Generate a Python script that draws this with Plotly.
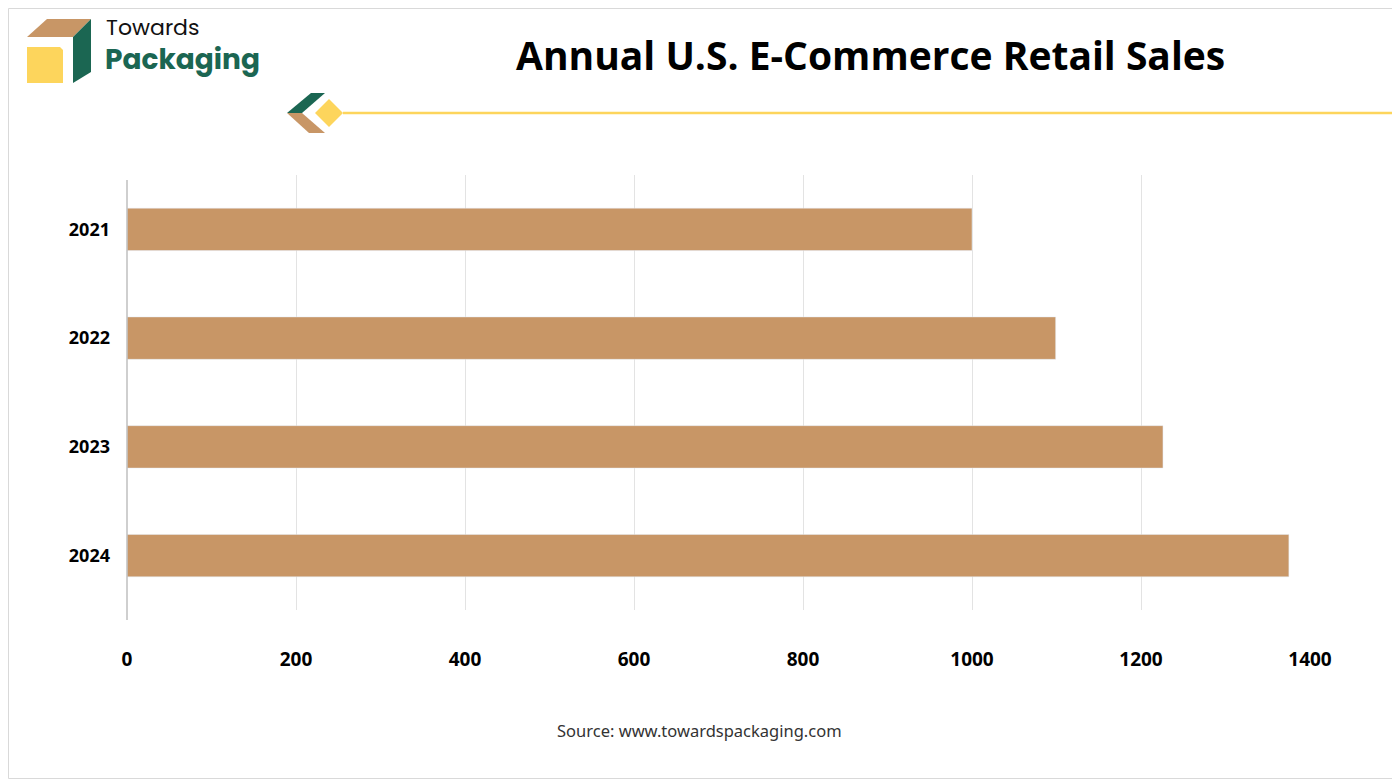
import plotly.graph_objects as go

years = ["2021", "2022", "2023", "2024"]
sales = [1000, 1099, 1226, 1375]
x_ticks = [0, 200, 400, 600, 800, 1000, 1200, 1400]

OFF = 8  # page body margin
W, H = 1400 - OFF, 779 - OFF
L, R, T, B = 127 - OFF, 90, 175 - OFF, 169
PW, PH = W - L - R, H - T - B

def px(x):
    return (x - OFF - L) / PW

def py(y):
    return (H - B - (y - OFF)) / PH

def poly(pts, color):
    d = "M " + " L ".join(f"{px(x)},{py(y)}" for x, y in pts) + " Z"
    return dict(type="path", xref="paper", yref="paper", path=d,
                fillcolor=color, line=dict(width=0), layer="above")

fig = go.Figure(go.Bar(
    y=years, x=sales, orientation="h", marker_color="#C89666",
    width=0.39, hoverinfo="skip"))

shapes = [
    poly([(27, 37), (47, 19), (91, 19), (73, 37)], "#C89666"),
    poly([(73, 37), (91, 19), (91, 72), (73, 83)], "#1B6652"),
    poly([(27, 47), (60, 47), (63, 50), (63, 83), (27, 83)], "#FDD55C"),
    poly([(287, 113), (311, 93), (325, 93), (302, 113)], "#1B6652"),
    poly([(287, 113), (302, 113), (325, 133), (309, 133)], "#C89666"),
    poly([(315, 113), (329, 99), (343, 113), (329, 127)], "#FDD55C"),
    dict(type="line", xref="paper", yref="paper", x0=px(343), x1=px(1400),
         y0=py(113), y1=py(113), line=dict(color="#FDD55C", width=2.5)),
    dict(type="rect", xref="paper", yref="paper", x0=px(OFF + 0.5), x1=px(1399.5),
         y0=py(OFF + 0.5), y1=py(778.5), line=dict(color="#D9D9D9", width=1)),
    dict(type="line", xref="paper", yref="paper", x0=0, x1=0,
         y0=py(180), y1=py(620), line=dict(color="#BFBFBF", width=1.5)),
]

ann = [
    dict(text="<b>Annual U.S. E-Commerce Retail Sales</b>", x=px(870), y=py(55),
         font=dict(size=39, color="#000", family="Open Sans")),
    dict(text="Towards", x=px(104), y=py(27), xanchor="left",
         font=dict(size=22, color="#111", family="Poppins, Lato")),
    dict(text="<b>Packaging</b>", x=px(103), y=py(59), xanchor="left",
         font=dict(size=28, color="#1B6652", family="Poppins, Lato")),
    dict(text="Source: www.towardspackaging.com", x=px(699), y=py(730),
         font=dict(size=16.5, color="#333", family="Noto Sans")),
]
for a in ann:
    a.update(xref="paper", yref="paper", showarrow=False, yanchor="middle")
    a.setdefault("xanchor", "center")

fig.update_layout(
    width=W, height=H, margin=dict(l=L, r=R, t=T, b=B),
    paper_bgcolor="white", plot_bgcolor="white", showlegend=False,
    shapes=shapes, annotations=ann,
    font=dict(family="Open Sans", color="#000"),
    xaxis=dict(range=[0, 1400], tickvals=x_ticks,
               ticktext=[f"<b>{v}</b>" for v in x_ticks], showgrid=True,
               gridcolor="#E3E3E3", gridwidth=1, zeroline=False,
               tickfont=dict(size=19, family="Open Sans", color="#000"),
               ticklabelstandoff=36, showline=False),
    yaxis=dict(categoryorder="array", categoryarray=years,
               tickvals=years, ticktext=[f"<b>{y}</b>" for y in years],
               range=[3.5, -0.5], showgrid=False, zeroline=False,
               tickfont=dict(size=18, family="Open Sans", color="#000"),
               ticklabelstandoff=16, showline=False),
)
fig.write_html("out.html")
